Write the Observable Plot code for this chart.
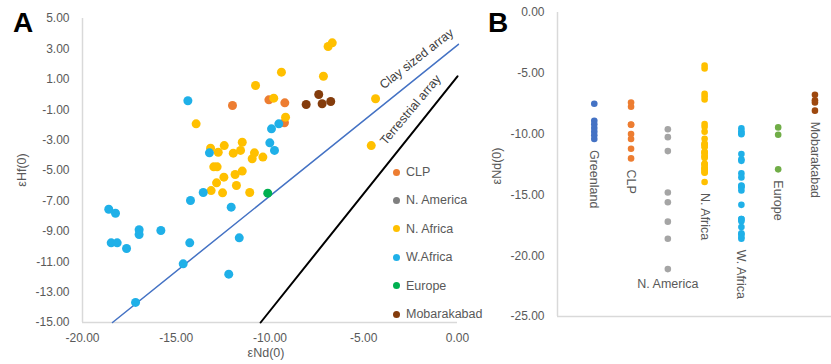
<!DOCTYPE html>
<html><head><meta charset="utf-8">
<script src="https://cdn.jsdelivr.net/npm/d3@7"></script>
<script src="https://cdn.jsdelivr.net/npm/@observablehq/plot@0.6"></script>
<style>
body{margin:0;background:#fff;}
#wrap{position:relative;width:831px;height:364px;overflow:hidden;font-family:"Liberation Sans",Arial,sans-serif;background:#fff;}
.panel{position:absolute;top:0;}
.plbl{position:absolute;font-weight:bold;font-size:28px;line-height:1;color:#000;}
.axlab{position:absolute;font-size:12.5px;color:#595959;white-space:nowrap;transform:translate(-50%,-50%);}
.axlab.rot{transform:translate(-50%,-50%) rotate(-90deg);}
.leg{position:absolute;font-size:12.5px;color:#595959;white-space:nowrap;}
.leg .sw{position:absolute;width:7px;height:7px;border-radius:50%;}
.leg .tx{position:absolute;transform:translateY(-50%);}
</style></head><body><div id="wrap"></div>
<script>
// ---------- Panel A data (εNd(0), εHf(0)) ----------
const groupsA = ["CLP","N. America","N. Africa","W.Africa","Europe","Mobarakabad"];
const colorsA = ["#ED7D31","#7F7F7F","#FFC000","#1FB0E8","#00B050","#843C0C"];
const clpNd = [-12.0,-10.06,-9.21,-9.23];
const clpHf = [-0.72,-0.35,-0.55,-1.86];
const nAmericaNd = [];
const nAmericaHf = [];
const nAfricaNd = [-10.77,-13.94,-13.17,-12.76,-12.44,-11.48,-11.96,-11.57,-10.83,-10.95,-10.38,-13.0,-12.82,-12.46,-12.85,-13.14,-12.53,-11.79,-11.86,-11.48,-11.08,-6.9,-6.68,-9.39,-7.15,-9.8,-4.37,-9.17,-4.6];
const nAfricaHf = [0.59,-1.93,-3.53,-3.80,-3.36,-3.14,-3.86,-3.68,-3.84,-4.23,-4.12,-4.76,-4.76,-5.44,-5.81,-6.32,-6.47,-5.99,-5.26,-5.04,-6.45,3.16,3.40,1.47,1.2,-0.24,-0.28,-1.49,-3.36];
const wAfricaNd = [-14.38,-13.23,-13.56,-14.24,-12.07,-18.6,-18.24,-16.98,-16.98,-15.82,-18.47,-18.15,-17.65,-14.28,-11.64,-14.63,-12.2,-17.17,-9.53,-9.92,-10.01,-9.76];
const wAfricaHf = [-0.41,-3.84,-6.45,-6.97,-7.41,-7.55,-7.81,-8.9,-9.21,-8.95,-9.76,-9.76,-10.13,-9.76,-9.43,-11.14,-11.82,-13.68,-1.93,-2.26,-3.18,-3.68];
const europeNd = [-10.12];
const europeHf = [-6.49];
const mobNd = [-7.4,-8.07,-7.22,-6.76];
const mobHf = [0.0,-0.66,-0.61,-0.46];
// reference arrays (endpoints)
const clayLineNd = [-18.4, 0.05];
const clayLineHf = [-15.0, 3.3];
const terrLineNd = [-10.5, 0.0];
const terrLineHf = [-15.0, 1.2];
const arrayNames = ["Clay sized array","Terrestrial array"];
const aXTicks = [-20,-15,-10,-5,0];
const aYTicks = [5,3,1,-1,-3,-5,-7,-9,-11,-13,-15];

// ---------- Panel B data (εNd(0)) ----------
const catsB = ["Greenland","CLP","N. America","N. Africa","W. Africa","Europe","Mobarakabad"];
const colorsB = ["#4472C4","#ED7D31","#A5A5A5","#FFC000","#1FB0E8","#70AD47","#9E480E"];
const greenlandNdB = [-7.5,-8.9,-9.2,-9.5,-9.8,-10.1,-10.4];
const clpNdB = [-7.4,-7.75,-9.21,-9.23,-10.0,-10.4,-11.2,-12.0];
const nAmericaNdB = [-9.6,-10.25,-11.4,-14.8,-15.6,-17.2,-18.6,-21.1];
const nAfricaNdB = [-4.37,-4.6,-6.68,-6.9,-7.15,-9.17,-9.39,-9.8,-10.38,-10.77,-10.83,-10.95,-11.08,-11.48,-11.48,-11.57,-11.79,-11.86,-11.96,-12.44,-12.46,-12.53,-12.76,-12.82,-12.85,-13.0,-13.14,-13.17,-13.94];
const wAfricaNdB = [-9.53,-9.76,-9.92,-10.01,-11.64,-12.07,-12.2,-13.23,-13.56,-14.24,-14.28,-14.38,-14.63,-15.82,-16.98,-16.98,-17.17,-17.65,-18.15,-18.24,-18.47,-18.6];
const europeNdB = [-9.45,-10.05,-12.9];
const mobNdB = [-6.76,-7.22,-7.4,-8.07];
const bYTicks = [0,-5,-10,-15,-20,-25];

// ---------- build tables ----------
const fmt = d => d.toFixed(2);
const seriesA = [[clpNd,clpHf],[nAmericaNd,nAmericaHf],[nAfricaNd,nAfricaHf],[wAfricaNd,wAfricaHf],[europeNd,europeHf],[mobNd,mobHf]];
const ptsA = [];
seriesA.forEach(([xs,ys],i) => xs.forEach((x,j) => ptsA.push({g: groupsA[i], x, y: ys[j]})));
const clayLine = clayLineNd.map((x,i) => ({x, y: clayLineHf[i]}));
const terrLine = terrLineNd.map((x,i) => ({x, y: terrLineHf[i]}));
const clayNote = [{text: arrayNames[0], x: -1.97, y: 2.02}];
const terrNote = [{text: arrayNames[1], x: -2.24, y: -1.27}];

const seriesB = [greenlandNdB,clpNdB,nAmericaNdB,nAfricaNdB,wAfricaNdB,europeNdB,mobNdB];
const ptsB = [];
seriesB.forEach((vs,i) => vs.forEach(v => ptsB.push({c: catsB[i], i: i+1, v})));
const labB = seriesB.map((vs,i) => ({c: catsB[i], i: i+1, v: d3.min(vs)}));

const font = '"Liberation Sans", Arial, sans-serif';
const wrap = document.getElementById("wrap");

const plotA = Plot.plot({
  width: 470, height: 364,
  marginLeft: 82, marginRight: 13, marginTop: 18, marginBottom: 42,
  x: {domain: [-20, 0], ticks: aXTicks, tickFormat: fmt, tickSize: 0, tickPadding: 11, label: null},
  y: {domain: [-15, 5], ticks: aYTicks, tickFormat: fmt, tickSize: 0, tickPadding: 13, label: null},
  color: {domain: groupsA, range: colorsA},
  style: {fontFamily: font, fontSize: "12px", color: "#595959", background: "none"},
  marks: [
    Plot.ruleX([-20], {stroke: "#d9d9d9", strokeWidth: 1.5}),
    Plot.ruleY([-15], {stroke: "#d9d9d9", strokeWidth: 1.5}),
    Plot.line(clayLine, {x: "x", y: "y", stroke: "#4472C4", strokeWidth: 1.5}),
    Plot.line(terrLine, {x: "x", y: "y", stroke: "#000", strokeWidth: 2}),
    Plot.dot(ptsA, {x: "x", y: "y", fill: "g", r: 4.5}),
    Plot.text(clayNote, {x: "x", y: "y", text: "text", rotate: -38, dx: -4, dy: -5, fill: "#404040", fontSize: 12.5, textAnchor: "middle", lineAnchor: "middle"}),
    Plot.text(terrNote, {x: "x", y: "y", text: "text", rotate: -50, dx: -5, dy: -4, fill: "#404040", fontSize: 12.5, textAnchor: "middle", lineAnchor: "middle"})
  ]
});
plotA.classList.add("panel");
plotA.style.left = "0px";
wrap.appendChild(plotA);

const plotB = Plot.plot({
  width: 361, height: 364,
  marginLeft: 87, marginRight: 0, marginTop: 12, marginBottom: 48,
  x: {domain: [0, 7.45], axis: null},
  y: {domain: [-25, 0], ticks: bYTicks, tickFormat: fmt, tickSize: 0, tickPadding: 13, label: null},
  color: {domain: catsB, range: colorsB},
  style: {fontFamily: font, fontSize: "12px", color: "#595959", background: "none"},
  marks: [
    Plot.ruleX([0], {stroke: "#d9d9d9", strokeWidth: 1.5}),
    Plot.ruleY([-25], {stroke: "#d9d9d9", strokeWidth: 1.5}),
    Plot.dot(ptsB, {x: "i", y: "v", fill: "c", r: 3.3}),
    Plot.text(labB.filter(d => d.c !== "N. America"), {x: "i", y: "v", text: "c", rotate: 90, textAnchor: "start", lineAnchor: "middle", dy: 11, fill: "#595959", fontSize: 12.5}),
    Plot.text(labB.filter(d => d.c === "N. America"), {x: "i", y: "v", text: "c", textAnchor: "middle", lineAnchor: "middle", dy: 15, fill: "#595959", fontSize: 12.5})
  ]
});
plotB.classList.add("panel");
plotB.style.left = "470px";
wrap.appendChild(plotB);

// panel letters and axis titles
function addDiv(cls, text, left, top) {
  const d = document.createElement("div");
  d.className = cls; d.textContent = text;
  d.style.left = left + "px"; d.style.top = top + "px";
  wrap.appendChild(d); return d;
}
addDiv("plbl", "A", 13, 9);
addDiv("plbl", "B", 488, 9);
addDiv("axlab", "εNd(0)", 266, 353);
addDiv("axlab rot", "εHf(0)", 22, 170);
addDiv("axlab rot", "εNd(0)", 497, 166);

// legend for panel A
groupsA.forEach((g,i) => {
  const row = document.createElement("div");
  row.className = "leg";
  row.style.left = "396px";
  row.style.top = (172 + i * 28.4) + "px";
  const sw = document.createElement("div");
  sw.className = "sw"; sw.style.background = colorsA[i];
  sw.style.left = "-3.5px"; sw.style.top = "-3.5px";
  const tx = document.createElement("div");
  tx.className = "tx"; tx.textContent = g; tx.style.left = "10px"; tx.style.top = "0px";
  row.appendChild(sw); row.appendChild(tx);
  wrap.appendChild(row);
});
</script>
</body></html>
